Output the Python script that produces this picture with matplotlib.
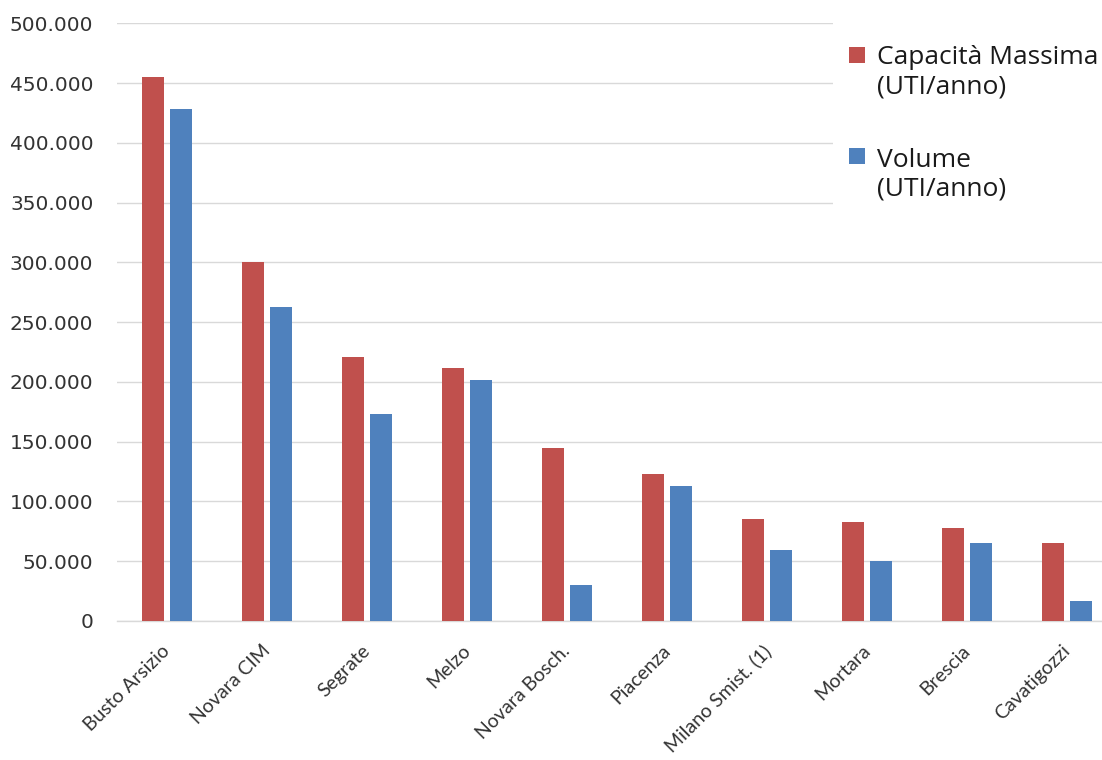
import matplotlib
matplotlib.use("Agg")
import matplotlib.pyplot as plt
from matplotlib.patches import Rectangle
from matplotlib.ticker import FuncFormatter
from matplotlib.transforms import ScaledTranslation
import numpy as np

# Terminal data
terminals = ["Busto Arsizio", "Novara CIM", "Segrate", "Melzo", "Novara Bosch.",
             "Piacenza", "Milano Smist. (1)", "Mortara", "Brescia", "Cavatigozzi"]
capacita_massima = [455000, 300000, 221000, 212000, 145000, 123000, 85000, 83000, 78000, 65000]
volume = [428000, 263000, 173000, 202000, 30000, 113000, 59000, 50000, 65000, 17000]

legend_labels = [["Capacità Massima", "(UTI/anno)"], ["Volume", "(UTI/anno)"]]
y_ticks = [0, 50000, 100000, 150000, 200000, 250000, 300000, 350000, 400000, 450000, 500000]

RED = "#C0504D"
BLUE = "#4F81BD"
GRID = "#D9D9D9"
TEXT = "#333333"

W, H = 1102, 760
fig = plt.figure(figsize=(W / 100, H / 100), dpi=100)
fig.patch.set_facecolor("white")

# axes in pixel units -> figure fractions
left_px, right_px, top_px, bottom_px = 117, 1117, 23.3, 621
ax = fig.add_axes([left_px / W, (H - bottom_px) / H,
                   (right_px - left_px) / W, (bottom_px - top_px) / H])
ax.set_facecolor("white")

x = np.arange(len(terminals))
bw = 0.225
off = 0.142
ax.bar(x - off, capacita_massima, width=bw, color=RED, zorder=3)
ax.bar(x + off, volume, width=bw, color=BLUE, zorder=3)

ax.set_xlim(-0.5, len(terminals) - 0.5)
ax.set_ylim(0, 500000)
ax.set_yticks(y_ticks)
ax.yaxis.set_major_formatter(FuncFormatter(lambda v, p: f"{int(v):,}".replace(",", ".")))
ax.yaxis.grid(True, color=GRID, linewidth=1.0, zorder=0)
ax.set_axisbelow(True)

for s in ["top", "right", "left"]:
    ax.spines[s].set_visible(False)
ax.spines["bottom"].set_color(GRID)
ax.spines["bottom"].set_linewidth(1.0)

ax.tick_params(axis="y", length=0, pad=17, labelsize=14.5, labelcolor=TEXT)
ax.tick_params(axis="x", length=0, pad=15)
ax.set_xticks(x)
ax.set_xticklabels(terminals, rotation=45, ha="right", va="top",
                   rotation_mode="anchor", fontsize=14, color=TEXT,
                   family=["Lato", "DejaVu Sans"])
shift = ScaledTranslation(-0.055, 0, fig.dpi_scale_trans)
for lbl in ax.get_xticklabels():
    lbl.set_transform(lbl.get_transform() + shift)

# legend panel drawn over the upper grid lines
fig.add_artist(Rectangle((833 / W, (H - 232) / H), (W - 833) / W, 232 / H,
                         transform=fig.transFigure, facecolor="white",
                         edgecolor="none", zorder=5))

sq = 16
entries = [(RED, 46.7, 64), (BLUE, 148, 167)]
for (col, sq_top, base), lines in zip(entries, legend_labels):
    fig.add_artist(Rectangle((849 / W, (H - sq_top - sq) / H), sq / W, sq / H,
                             transform=fig.transFigure, facecolor=col,
                             edgecolor="none", zorder=6))
    for i, line in enumerate(lines):
        fig.text(877 / W, (H - (base + 29 * i)) / H, line, ha="left",
                 va="baseline", fontsize=19, color="#1A1A1A",
                 family=["Open Sans", "DejaVu Sans"], zorder=7)

fig.savefig("out.png", dpi=100, facecolor="white")
